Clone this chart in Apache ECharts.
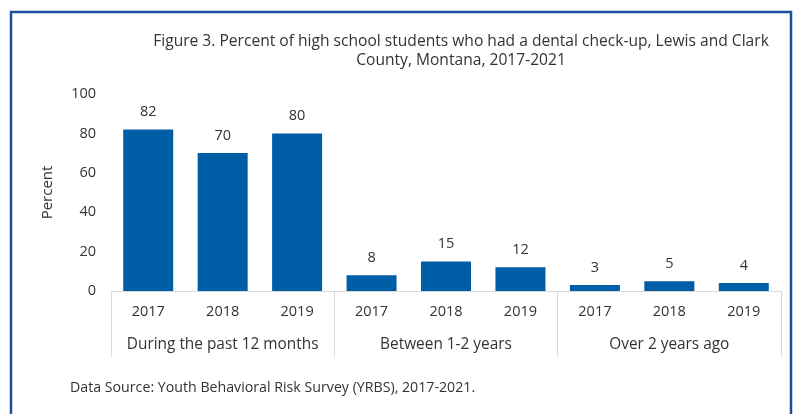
<!DOCTYPE html>
<html>
<head>
<meta charset="utf-8">
<script src="https://cdn.jsdelivr.net/npm/echarts@6/dist/echarts.min.js"></script>
<style>
  html, body { margin: 0; padding: 0; background: #fff; }
  #chart { width: 796px; height: 414px; }
</style>
</head>
<body>
<div id="chart"></div>
<script>
var years = ['2017', '2018', '2019', '2017', '2018', '2019', '2017', '2018', '2019'];
var groups = ['During the past 12 months', 'Between 1-2 years', 'Over 2 years ago'];
var percent = [82, 70, 80, 8, 15, 12, 3, 5, 4];
var yTicks = [0, 20, 40, 60, 80, 100];

var font = '"Open Sans", Lato, sans-serif';
var chart = echarts.init(document.getElementById('chart'));

var option = {
    backgroundColor: '#fff',
    animation: false,
    title: [
        {
            text: 'Figure 3. Percent of high school students who had a dental check-up, Lewis and Clark\nCounty, Montana, 2017-2021',
            left: 456,
            top: 27,
            textAlign: 'center',
            textStyle: {
                fontFamily: font,
                fontSize: 15.6,
                fontWeight: 'normal',
                color: '#333',
                lineHeight: 19,
                align: 'center'
            }
        },
        {
            text: 'Data Source: Youth Behavioral Risk Survey (YRBS), 2017-2021.',
            left: 65,
            top: 376,
            textStyle: {
                fontFamily: font,
                fontSize: 14.2,
                fontWeight: 'normal',
                color: '#333'
            }
        }
    ],
    graphic: [
        {
            type: 'rect',
            shape: { x: 11, y: 12, width: 780, height: 420 },
            style: { fill: 'none', stroke: '#1d4f9e', lineWidth: 2.5 },
            silent: true
        }
    ],
    grid: {
        left: 111,
        right: 15,
        top: 94,
        bottom: 123
    },
    xAxis: [
        {
            type: 'category',
            data: years,
            axisLine: { show: true, lineStyle: { color: '#d9d9d9', width: 1 } },
            axisTick: { show: false },
            axisLabel: {
                interval: 0,
                margin: 13,
                fontFamily: font,
                fontSize: 14.5,
                color: '#333'
            }
        },
        {
            type: 'category',
            position: 'bottom',
            data: groups,
            axisLine: { show: false },
            axisTick: {
                show: true,
                interval: 0,
                length: 66,
                lineStyle: { color: '#d9d9d9', width: 1 }
            },
            axisLabel: {
                interval: 0,
                margin: 46,
                fontFamily: font,
                fontSize: 15.4,
                color: '#333'
            }
        }
    ],
    yAxis: {
        type: 'value',
        min: yTicks[0],
        max: yTicks[yTicks.length - 1],
        interval: 20,
        name: 'Percent',
        nameLocation: 'middle',
        nameGap: 56,
        nameTextStyle: {
            fontFamily: font,
            fontSize: 15,
            color: '#333'
        },
        axisLine: { show: false },
        axisTick: { show: false },
        splitLine: { show: false },
        axisLabel: {
            margin: 15,
            fontFamily: font,
            fontSize: 14.5,
            color: '#333'
        }
    },
    series: [
        {
            type: 'bar',
            xAxisIndex: 0,
            data: percent,
            barWidth: 50,
            itemStyle: { color: '#005ea6' },
            label: {
                show: true,
                position: 'top',
                distance: 10,
                fontFamily: font,
                fontSize: 14.5,
                color: '#333'
            }
        }
    ]
};

chart.setOption(option);
</script>
</body>
</html>
